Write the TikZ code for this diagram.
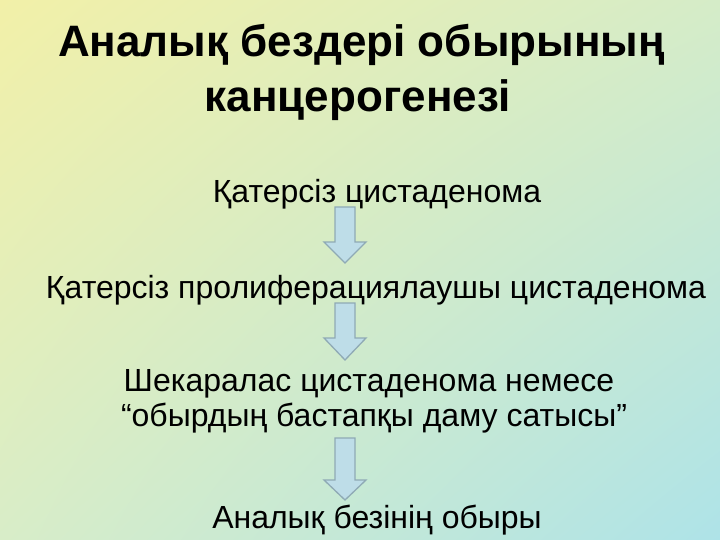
\documentclass[tikz,border=0pt]{standalone}
\usepackage{fontspec}
\setmainfont{Liberation Sans}
\usetikzlibrary{shadings}
\definecolor{bgUL}{HTML}{F2F0A8}
\definecolor{bgUR}{HTML}{D5ECC8}
\definecolor{bgLL}{HTML}{D8EDC8}
\definecolor{bgLR}{HTML}{AEE3E8}
\definecolor{arrfill}{HTML}{BEDDE8}
\definecolor{arrline}{HTML}{8FAAB5}
\tikzset{
  title/.style={anchor=base, inner sep=0pt, font=\fontsize{44}{52}\selectfont\bfseries},
  body/.style={anchor=base, inner sep=0pt, font=\fontsize{32}{38}\selectfont},
  blockarrow/.style={draw=arrline, fill=arrfill, line width=1.3pt, line join=miter}
}
% #1 centre x, #2 top y, #3 head start y, #4 tip y (all in pt, downward positive)
\newcommand{\myblockarrow}[4]{%
  \path[blockarrow] (#1-10,-#2) -- (#1+10,-#2) -- (#1+10,-#3) -- (#1+21,-#3)
    -- (#1,-#4) -- (#1-21,-#3) -- (#1-10,-#3) -- cycle;}
\begin{document}
\begin{tikzpicture}[x=1pt,y=1pt]
\useasboundingbox (0,0) rectangle (720,-540);
\shade[upper left=bgUL, upper right=bgUR, lower left=bgLL, lower right=bgLR] (0,0) rectangle (720,-540);
\node[title] (t1) at (361.5,-57) {Аналық бездері обырының};
\node[title] (t2) at (358,-112) {канцерогенезі};
\node[body] (b1) at (377,-203) {Қатерсіз цистаденома};
\node[body] (b2) at (376,-298) {Қатерсіз пролиферациялаушы цистаденома};
\node[body] (b3) at (369,-391) {Шекаралас цистаденома немесе};
\node[body] (b4) at (374,-426) {“обырдың бастапқы даму сатысы”};
\node[body] (b5) at (377,-528) {Аналық безінің обыры};
\myblockarrow{345}{207}{242}{263}
\myblockarrow{345}{303}{338}{360}
\myblockarrow{345}{438}{480}{500}
\end{tikzpicture}
\end{document}
